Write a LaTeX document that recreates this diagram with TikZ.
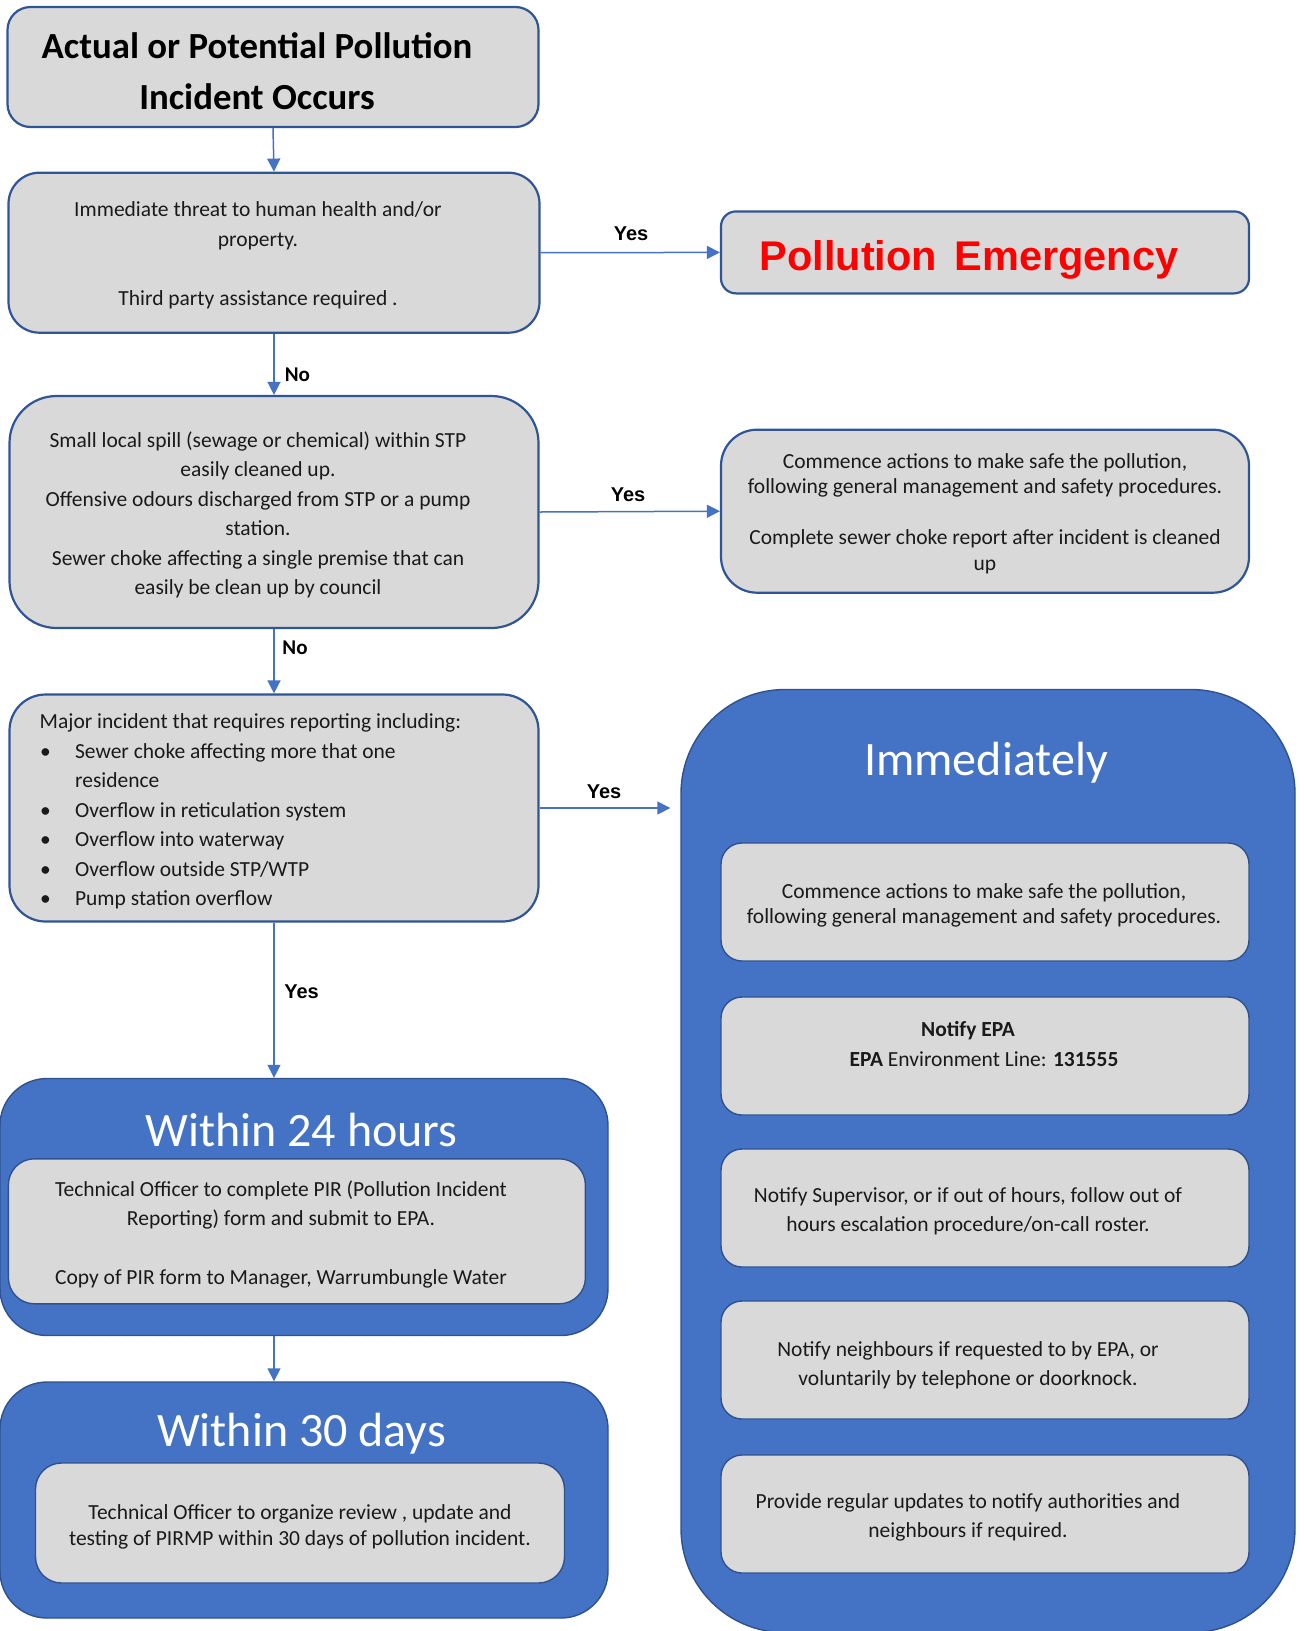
\documentclass[tikz,border=0pt]{standalone}
\usepackage{fontspec}
\setmainfont{Carlito}
\newfontfamily\arialf{Liberation Sans}
\usetikzlibrary{arrows.meta}
\definecolor{boxgray}{HTML}{D9D9D9}
\definecolor{bordblue}{HTML}{2F5597}
\definecolor{fillblue}{HTML}{4472C4}
\definecolor{darkblue}{HTML}{2F528F}
\definecolor{txtc}{HTML}{1A1A1A}
\definecolor{arrblue}{HTML}{4472C4}
\definecolor{pered}{HTML}{FF0000}
\newcommand\fbody{\fontsize{21.5}{29.5}\selectfont}
\newcommand\fbodyt{\fontsize{21.5}{25.5}\selectfont}
\newcommand\ftitle{\fontsize{36.8}{51}\selectfont\bfseries}
\newcommand\fbig{\fontsize{48}{56}\selectfont}
\newcommand\flab{\arialf\fontsize{20}{24}\selectfont\bfseries}
\newcommand\flabno{\fontsize{21}{24}\selectfont\bfseries}
\begin{document}
\begin{tikzpicture}[x=1pt,y=-1pt,
  gbox/.style={rectangle, draw=bordblue, fill=boxgray, line width=2.2pt, inner sep=0pt},
  ibox/.style={rectangle, draw=darkblue, fill=boxgray, line width=1.4pt, inner sep=0pt,
     minimum width=528pt, minimum height=118pt, rounded corners=21pt},
  bbox/.style={rectangle, draw=darkblue, fill=fillblue, line width=1.4pt, inner sep=0pt},
  txt/.style={inner sep=0pt, align=center, text=txtc, font=\fbody},
  txtt/.style={inner sep=0pt, align=center, text=txtc, font=\fbodyt},
  bigt/.style={inner sep=0pt, text=white, font=\fbig},
  lab/.style={inner sep=0pt, text=black, font=\flab},
  labno/.style={inner sep=0pt, text=black, font=\flabno},
  arr/.style={draw=arrblue, line width=1.5pt, -{Triangle[length=13pt,width=13pt]}}
]
\useasboundingbox (0,0) rectangle (1304,1631);

% left column
\node[gbox, minimum width=531pt, minimum height=120pt, rounded corners=23pt] (b1) at (273,67) {};
\node[inner sep=0pt, align=center, font=\ftitle] (t1) at (257,71) {Actual or Potential Pollution\\Incident Occurs};

\node[gbox, minimum width=531pt, minimum height=160pt, rounded corners=31pt] (b2) at (274,252.7) {};
\node[txt] (t2) at (258,255.5) {Immediate threat to human health and/or\\property.\\~\\Third party assistance required .};

\node[gbox, minimum width=528pt, minimum height=82pt, rounded corners=15pt] (pe) at (985,252.4) {};
\node[inner sep=0pt, text=pered, font=\arialf\fontsize{41.5}{48}\selectfont\bfseries] (tpe) at (969,260) {Pollution\hspace{6pt} Emergency};

\node[gbox, minimum width=529pt, minimum height=232pt, rounded corners=47pt] (b3) at (274,512) {};
\node[txt] (t3) at (258,515) {Small local spill (sewage or chemical) within STP\\easily cleaned up.\\Offensive odours discharged from STP or a pump\\station.\\Sewer choke affecting a single premise that can\\easily be clean up by council};

\node[gbox, minimum width=528pt, minimum height=163pt, rounded corners=36pt] (b4) at (985,511.2) {};
\node[txtt] (t4) at (985,513.5) {Commence actions to make safe the pollution,\\following general management and safety procedures.\\~\\Complete sewer choke report after incident is cleaned\\up};

\node[gbox, minimum width=529pt, minimum height=227pt, rounded corners=36pt] (b5) at (274,808) {};
\node[txt, align=left, anchor=west] (t5) at (39.5,811.5) {Major incident that requires reporting including:\\
\makebox[35.4pt][l]{\hspace{0.5pt}\textbullet}Sewer choke affecting more that one\\
\hspace*{35.4pt}residence\\
\makebox[35.4pt][l]{\hspace{0.5pt}\textbullet}Overflow in reticulation system\\
\makebox[35.4pt][l]{\hspace{0.5pt}\textbullet}Overflow into waterway\\
\makebox[35.4pt][l]{\hspace{0.5pt}\textbullet}Overflow outside STP/WTP\\
\makebox[35.4pt][l]{\hspace{0.5pt}\textbullet}Pump station overflow};

% Within 24 hours
\node[bbox, minimum width=608pt, minimum height=257pt, rounded corners=47pt] (w24) at (304,1207) {};
\node[bigt] (tw24) at (301.6,1130) {Within 24 hours};
\node[ibox, minimum width=577pt, minimum height=145pt, rounded corners=26pt] (w24i) at (296.9,1231.3) {};
\node[txt, font=\fontsize{21.5}{29.3}\selectfont] (tw24i) at (281,1234.5) {Technical Officer to complete PIR (Pollution Incident\\Reporting) form and submit to EPA.\\~\\Copy of PIR form to Manager, Warrumbungle Water};

% Within 30 days
\node[bbox, minimum width=608pt, minimum height=236pt, rounded corners=47pt] (w30) at (304,1500) {};
\node[bigt] (tw30) at (301.6,1434) {Within 30 days};
\node[ibox, minimum width=529pt, minimum height=120pt, rounded corners=26pt] (w30i) at (300,1523) {};
\node[txt, font=\fontsize{21.5}{26}\selectfont] (tw30i) at (300,1527) {Technical Officer to organize review , update and\\testing of PIRMP within 30 days of pollution incident.};

% Immediately
\node[bbox, minimum width=614pt, minimum height=943pt, rounded corners=104pt] (imm) at (988,1161) {};
\node[bigt] (timm) at (986,763) {Immediately};
\node[ibox] (ia) at (985,902) {};
\node[txtt] (tia) at (984,905.5) {Commence actions to make safe the pollution,\\following general management and safety procedures.};
\node[ibox] (ib) at (985,1056) {};
\node[txt, font=\fbody\bfseries] (tib1) at (968,1031) {Notify EPA};
\node[txt] (tib2) at (984,1059) {\textbf{EPA} Environment Line: \textbf{131555}};
\node[ibox] (ic) at (985,1208) {};
\node[txt, font=\fontsize{21.5}{29}\selectfont] (tic) at (968,1211) {Notify Supervisor, or if out of hours, follow out of\\hours escalation procedure/on-call roster.};
\node[ibox] (id) at (985,1360) {};
\node[txt, font=\fontsize{21.5}{29}\selectfont] (tid) at (968,1365) {Notify neighbours if requested to by EPA, or\\voluntarily by telephone or doorknock.};
\node[ibox] (ie) at (985,1514) {};
\node[txt, font=\fontsize{21.5}{29}\selectfont] (tie) at (968,1517) {Provide regular updates to notify authorities and\\neighbours if required.};

% connectors
\draw[arr] (b1.south) -- (b2.north);
\draw[arr] (b2.east) -- (pe.west);
\draw[arr] (b2.south) -- (b3.north);
\draw[arr] (b3.east) -- (b4.west);
\draw[arr] (b3.south) -- (b5.north);
\path (imm.west |- b5.east) ++(-10,0) coordinate (y3end);
\draw[arr] (b5.east) -- (y3end);
\draw[arr] (b5.south) -- (b5.south |- w24.north);
\draw[arr] (b5.south |- w24.south) -- (b5.south |- w30.north);

% labels
\node[lab] (ly1) at (631,234) {Yes};
\node[labno] (ln1) at (297.4,374.4) {No};
\node[lab] (ly2) at (628,495) {Yes};
\node[labno] (ln2) at (295,648) {No};
\node[lab] (ly3) at (604,791.4) {Yes};
\node[lab] (ly4) at (301.6,992) {Yes};
\end{tikzpicture}
\end{document}
